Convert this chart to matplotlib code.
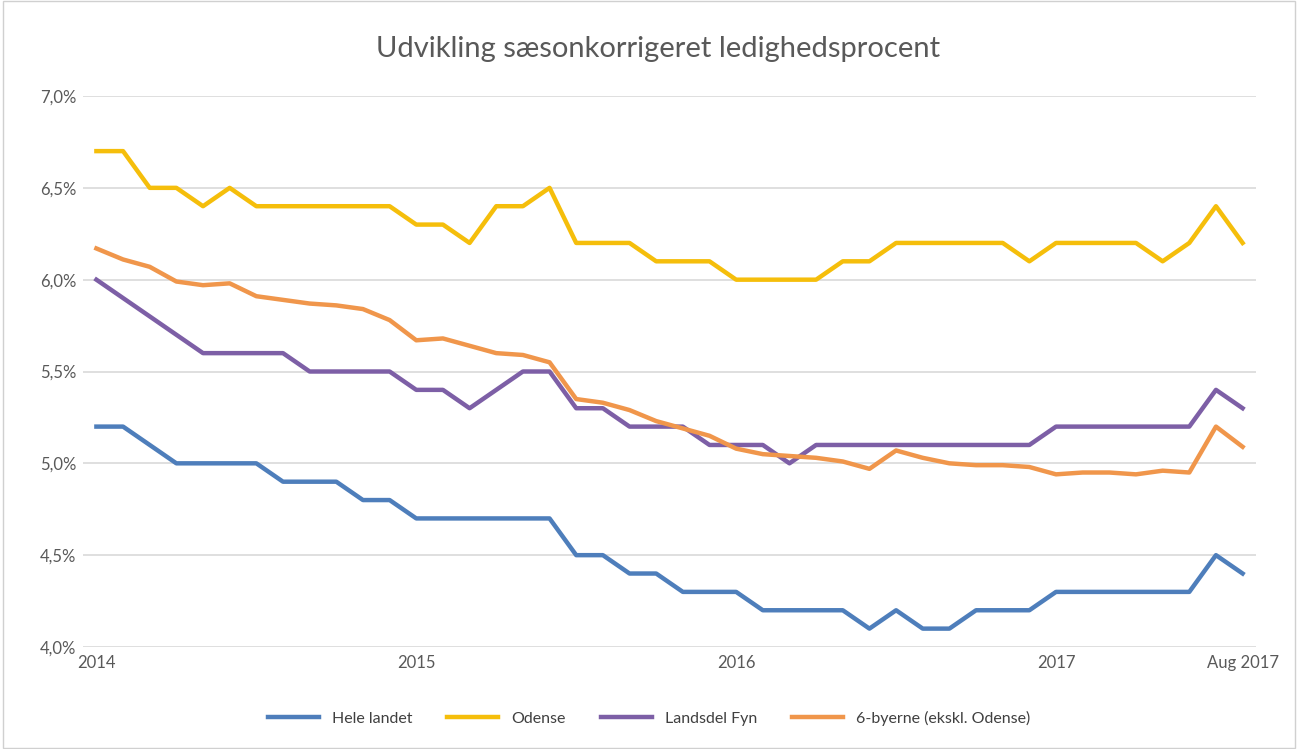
import numpy as np
import matplotlib.pyplot as plt
from matplotlib.ticker import FuncFormatter

# monthly values, Jan 2014 .. Aug 2017 (44 months)
months = np.arange(44)
hele_landet = [5.2, 5.2, 5.1, 5.0, 5.0, 5.0, 5.0, 4.9, 4.9, 4.9, 4.8, 4.8,
               4.7, 4.7, 4.7, 4.7, 4.7, 4.7, 4.5, 4.5, 4.4, 4.4, 4.3, 4.3,
               4.3, 4.2, 4.2, 4.2, 4.2, 4.1, 4.2, 4.1, 4.1, 4.2, 4.2, 4.2,
               4.3, 4.3, 4.3, 4.3, 4.3, 4.3, 4.5, 4.4]
odense = [6.7, 6.7, 6.5, 6.5, 6.4, 6.5, 6.4, 6.4, 6.4, 6.4, 6.4, 6.4,
          6.3, 6.3, 6.2, 6.4, 6.4, 6.5, 6.2, 6.2, 6.2, 6.1, 6.1, 6.1,
          6.0, 6.0, 6.0, 6.0, 6.1, 6.1, 6.2, 6.2, 6.2, 6.2, 6.2, 6.1,
          6.2, 6.2, 6.2, 6.2, 6.1, 6.2, 6.4, 6.2]
landsdel_fyn = [6.0, 5.9, 5.8, 5.7, 5.6, 5.6, 5.6, 5.6, 5.5, 5.5, 5.5, 5.5,
                5.4, 5.4, 5.3, 5.4, 5.5, 5.5, 5.3, 5.3, 5.2, 5.2, 5.2, 5.1,
                5.1, 5.1, 5.0, 5.1, 5.1, 5.1, 5.1, 5.1, 5.1, 5.1, 5.1, 5.1,
                5.2, 5.2, 5.2, 5.2, 5.2, 5.2, 5.4, 5.3]
seks_byerne = [6.17, 6.11, 6.07, 5.99, 5.97, 5.98, 5.91, 5.89, 5.87, 5.86, 5.84, 5.78,
               5.67, 5.68, 5.64, 5.60, 5.59, 5.55, 5.35, 5.33, 5.29, 5.23, 5.19, 5.15,
               5.08, 5.05, 5.04, 5.03, 5.01, 4.97, 5.07, 5.03, 5.00, 4.99, 4.99, 4.98,
               4.94, 4.95, 4.95, 4.94, 4.96, 4.95, 5.20, 5.09]

tick_pos = [0, 12, 24, 36, 43]
tick_labels = ['2014', '2015', '2016', '2017', 'Aug 2017']
yticks = [4.0, 4.5, 5.0, 5.5, 6.0, 6.5, 7.0]

plt.rcParams['font.family'] = ['Lato', 'DejaVu Sans']

fig = plt.figure(figsize=(12.98, 7.49), dpi=100)
ax = fig.add_axes([0.064, 0.1362, 0.9036, 0.7356])

lw = 3.2
ax.plot(months, hele_landet, color='#4E7EBB', lw=lw, label='Hele landet')
ax.plot(months, odense, color='#F5BE0B', lw=lw, label='Odense')
ax.plot(months, landsdel_fyn, color='#7D5FA6', lw=lw, label='Landsdel Fyn')
ax.plot(months, seks_byerne, color='#F0964B', lw=lw, label='6-byerne (ekskl. Odense)')

ax.set_xlim(-0.5, 43.5)
ax.set_ylim(4.0, 7.0)
ax.set_yticks(yticks)
ax.yaxis.set_major_formatter(FuncFormatter(lambda v, p: ('%.1f%%' % v).replace('.', ',')))
ax.set_xticks(tick_pos)
ax.set_xticklabels(tick_labels)
ax.tick_params(length=0, labelsize=12, colors='#595959')
ax.tick_params(axis='y', pad=5)
ax.tick_params(axis='x', pad=6)
ax.grid(axis='y', color='#D9D9D9', lw=1.2)
ax.set_axisbelow(True)
for s in ax.spines.values():
    s.set_visible(False)

fig.text(0.507, 0.935, 'Udvikling sæsonkorrigeret ledighedsprocent',
         ha='center', va='center', fontsize=21, color='#595959')

fig.legend(loc='lower center', bbox_to_anchor=(0.5, 0.012), ncol=4, frameon=False,
           fontsize=11.5, handlelength=3.2, columnspacing=2.2, labelcolor='#404040')

fig.patches.append(plt.Rectangle((0.002, 0.002), 0.996, 0.996, transform=fig.transFigure,
                                 fill=False, edgecolor='#D0D0D0', lw=1))

fig.savefig('out.png', dpi=100)
